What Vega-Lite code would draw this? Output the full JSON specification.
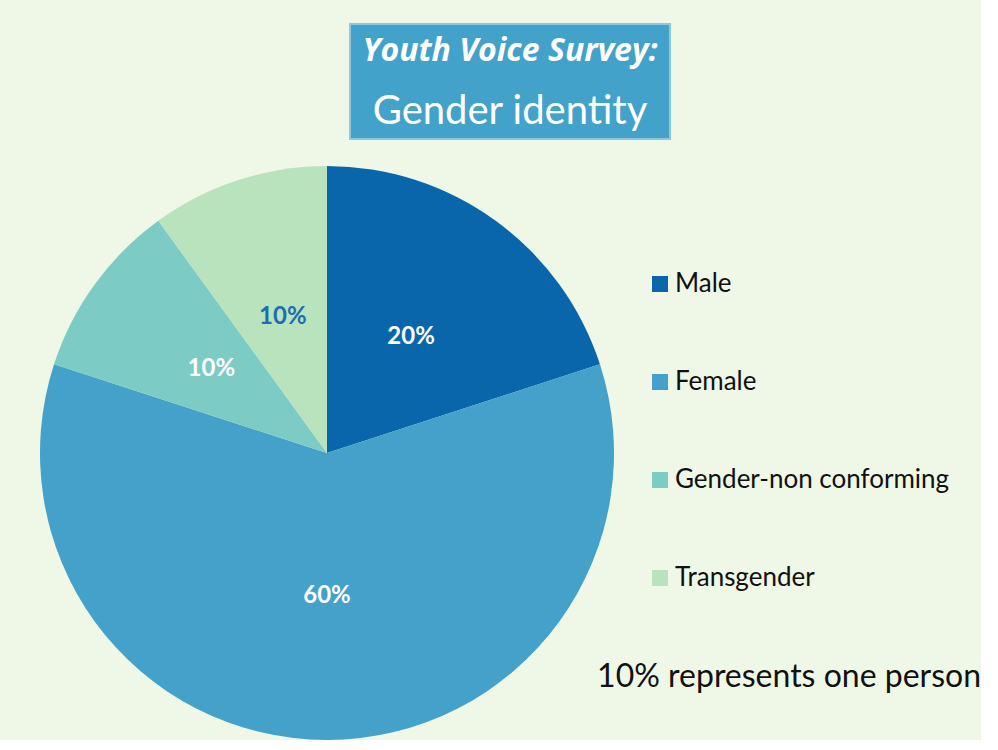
{
  "$schema": "https://vega.github.io/schema/vega-lite/v6.json",
  "background": "#eff7e6",
  "padding": {"left": 40, "top": 23, "right": 0, "bottom": 0},
  "spacing": 26,
  "center": true,
  "config": {"font": "Lato", "view": {"stroke": null}},
  "vconcat": [
    {
      "width": 320,
      "height": 115,
      "view": {"fill": "#43a2ca", "stroke": "#8cc8df", "strokeWidth": 2},
      "data": {"values": [
        {"line": "Youth Voice Survey:", "n": 1},
        {"line": "Gender identity", "n": 2}
      ]},
      "layer": [
        {
          "transform": [{"filter": "datum.n === 1"}],
          "mark": {"type": "text", "color": "white", "fontSize": 32, "fontWeight": "bold", "fontStyle": "italic", "baseline": "middle", "font": "Open Sans"},
          "encoding": {
            "text": {"field": "line"},
            "y": {"field": "line", "type": "nominal", "sort": null, "scale": {"type": "point", "padding": 0.45, "domain": ["Youth Voice Survey:", "Gender identity"]}, "axis": null}
          }
        },
        {
          "transform": [{"filter": "datum.n === 2"}],
          "mark": {"type": "text", "color": "white", "fontSize": 40, "baseline": "middle"},
          "encoding": {
            "text": {"field": "line"},
            "y": {"field": "line", "type": "nominal", "sort": null, "scale": {"type": "point", "padding": 0.45, "domain": ["Youth Voice Survey:", "Gender identity"]}, "axis": null}
          }
        }
      ]
    },
    {
      "width": 574,
      "height": 574,
      "title": {"text": "10% represents one person", "orient": "bottom", "anchor": "end", "frame": "group", "fontSize": 32, "fontWeight": "normal", "color": "#111111", "offset": -78, "dx": 367},
      "data": {"values": [
        {"gender": "Male", "pct": 20, "label": "20%", "idx": 1},
        {"gender": "Female", "pct": 60, "label": "60%", "idx": 2},
        {"gender": "Gender-non conforming", "pct": 10, "label": "10%", "idx": 3},
        {"gender": "Transgender", "pct": 10, "label": "10%", "idx": 4}
      ]},
      "encoding": {
        "theta": {"field": "pct", "type": "quantitative", "stack": true},
        "order": {"field": "idx", "type": "quantitative", "sort": "ascending"}
      },
      "layer": [
        {
          "mark": {"type": "arc", "outerRadius": 287},
          "encoding": {
            "color": {
              "field": "gender", "type": "nominal",
              "sort": ["Male", "Female", "Gender-non conforming", "Transgender"],
              "scale": {"domain": ["Male", "Female", "Gender-non conforming", "Transgender"], "range": ["#0a66aa", "#43a1ca", "#7ccbc4", "#b9e3bc"]},
              "legend": {"title": null, "orient": "none", "legendX": 607, "legendY": 247, "symbolType": "square", "symbolSize": 256, "symbolStrokeWidth": 0, "labelFontSize": 26, "labelColor": "#111111", "rowPadding": 72, "labelOffset": 2, "labelLimit": 400}
            }
          }
        },
        {
          "mark": {"type": "text", "radius": 143, "fontSize": 24, "fontWeight": "bold"},
          "encoding": {
            "text": {"field": "label"},
            "color": {"condition": {"test": "datum.gender === 'Transgender'", "value": "#1f6cb0"}, "value": "white"}
          }
        }
      ]
    }
  ]
}
